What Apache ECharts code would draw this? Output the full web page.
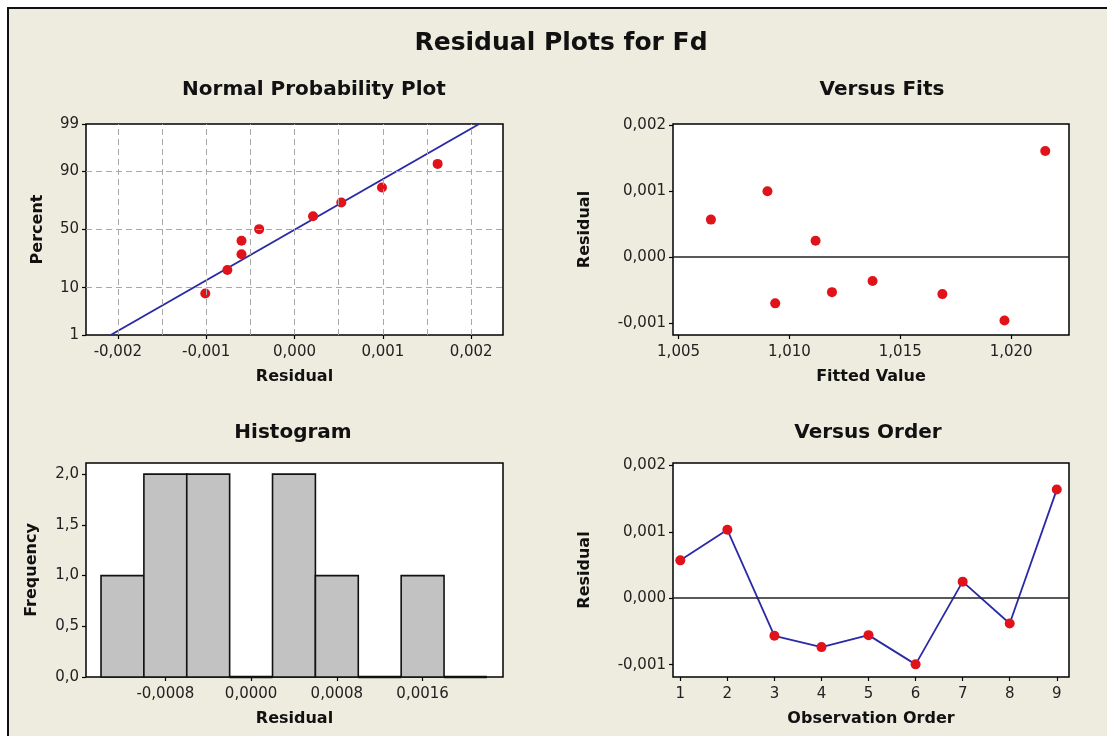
<!DOCTYPE html>
<html>
<head>
<meta charset="utf-8">
<script src="https://cdn.jsdelivr.net/npm/echarts@6/dist/echarts.min.js"></script>
<style>
  html, body { margin: 0; padding: 0; background: #ffffff; }
  #main { width: 1107px; height: 736px; }
</style>
</head>
<body>
<div id="main"></div>
<script>
var npResidual = [-0.00101, -0.00076, -0.00060, -0.00060, -0.00040, 0.00021, 0.00053, 0.00099, 0.00162];
var npPercent = [7.9, 18.6, 29.2, 40.2, 50.3, 61.5, 72.4, 82.3, 92.6];
var fitLineResidual = [-0.00208, 0.00209];
var fitLinePercent = [1, 99];
var pctTicks = [1, 10, 50, 90, 99];
var pctGrid = [10, 50, 90];
var npXTicks = [-0.002, -0.001, 0, 0.001, 0.002];
var npXGrid = [-0.002, -0.0015, -0.001, -0.0005, 0, 0.0005, 0.001, 0.0015, 0.002];

// versus fits
var fittedValue = [1.00646, 1.00901, 1.00936, 1.01118, 1.01192, 1.01375, 1.01690, 1.01970, 1.02154];
var fitsResidual = [0.00057, 0.00100, -0.00070, 0.00025, -0.00053, -0.00036, -0.00056, -0.00096, 0.00161];
var fitsXTicks = [1.005, 1.010, 1.015, 1.020];
var residTicks = [-0.001, 0, 0.001, 0.002];

// histogram
var binEdges = [-0.0014, -0.0010, -0.0006, -0.0002, 0.0002, 0.0006, 0.0010, 0.0014, 0.0018, 0.0022];
var binCounts = [1, 2, 2, 0, 2, 1, 0, 1, 0];
var histXTicks = [-0.0008, 0, 0.0008, 0.0016];
var histYTicks = [0, 0.5, 1, 1.5, 2];

// versus order
var observation = [1, 2, 3, 4, 5, 6, 7, 8, 9];
var orderResidual = [0.00057, 0.00103, -0.000565, -0.000735, -0.000555, -0.000995, 0.00025, -0.00038, 0.001635];

// inverse normal cdf (Acklam) -> probability scale
function probit(p) {
    var a = [-39.69683028665376, 220.9460984245205, -275.9285104469687, 138.3577518672690, -30.66479806614716, 2.506628277459239];
    var b = [-54.47609879822406, 161.5858368580409, -155.6989798598866, 66.80131188771972, -13.28068155288572];
    var c = [-0.007784894002430293, -0.3223964580411365, -2.400758277161838, -2.549732539343734, 4.374664141464968, 2.938163982698783];
    var d = [0.007784695709041462, 0.3224671290700398, 2.445134137142996, 3.754408661907416];
    var pl = 0.02425, q, r;
    if (p < pl) {
        q = Math.sqrt(-2 * Math.log(p));
        return (((((c[0]*q+c[1])*q+c[2])*q+c[3])*q+c[4])*q+c[5]) / ((((d[0]*q+d[1])*q+d[2])*q+d[3])*q+1);
    }
    if (p > 1 - pl) {
        q = Math.sqrt(-2 * Math.log(1 - p));
        return -(((((c[0]*q+c[1])*q+c[2])*q+c[3])*q+c[4])*q+c[5]) / ((((d[0]*q+d[1])*q+d[2])*q+d[3])*q+1);
    }
    q = p - 0.5; r = q * q;
    return (((((a[0]*r+a[1])*r+a[2])*r+a[3])*r+a[4])*r+a[5])*q / (((((b[0]*r+b[1])*r+b[2])*r+b[3])*r+b[4])*r+1);
}
function z(pct) { return probit(pct / 100); }
function comma(n) { return function (v) { return (Math.abs(v) < 1e-12 ? 0 : v).toFixed(n).replace('.', ','); }; }

var FONT = 'DejaVu Sans';
var nameStyle = { color: '#111', fontFamily: FONT, fontSize: 16, fontWeight: 'bold' };
var tickStyle = { show: true, length: 4, lineStyle: { color: '#000', width: 1.2 } };

function valueAxis(idx, min, max, ticks, fmt, name, gap, margin) {
    return {
        type: 'value', gridIndex: idx, min: min, max: max, scale: true,
        name: name, nameLocation: 'middle', nameGap: gap, nameTextStyle: nameStyle,
        axisLine: { show: false, onZero: false },
        axisTick: Object.assign({ customValues: ticks }, tickStyle),
        axisLabel: { customValues: ticks, formatter: fmt, color: '#222', fontFamily: FONT, fontSize: 15, margin: margin },
        splitLine: { show: false }
    };
}

var zTicks = pctTicks.map(z);
var zMin = z(1), zMax = z(99);
function pctLabel(v) {
    for (var i = 0; i < zTicks.length; i++) if (Math.abs(zTicks[i] - v) < 1e-6) return String(pctTicks[i]);
    return '';
}

var gridBase = { show: true, backgroundColor: '#ffffff', borderColor: '#000', borderWidth: 1.5 };
var zeroLine = {
    silent: true, symbol: 'none', label: { show: false },
    lineStyle: { color: '#222', width: 1.5, type: 'solid' },
    data: [{ yAxis: 0 }]
};
var red = '#e0121a';

var histData = binCounts.map(function (c, i) { return [binEdges[i], binEdges[i + 1], c]; });

var npGridLines = npXGrid.map(function (v) { return [{ coord: [v, zMin] }, { coord: [v, zMax] }]; })
    .concat(pctGrid.map(function (p) { return [{ coord: [-0.00236, z(p)] }, { coord: [0.00236, z(p)] }]; }));

var myChart = echarts.init(document.getElementById('main'));
var option = {
    backgroundColor: '#ffffff',
    animation: false,
    graphic: [
        { type: 'rect', shape: { x: 8, y: 8, width: 1120, height: 760 }, style: { fill: '#eeecdf', stroke: '#111', lineWidth: 2 }, z: -10 },
        { type: 'text', x: 561, y: 43, style: { text: 'Residual Plots for Fd', font: 'bold 25px "DejaVu Sans"', fill: '#111', textAlign: 'center', textVerticalAlign: 'middle' } },
        { type: 'text', x: 314, y: 90, style: { text: 'Normal Probability Plot', font: 'bold 20px "DejaVu Sans"', fill: '#111', textAlign: 'center', textVerticalAlign: 'middle' } },
        { type: 'text', x: 882, y: 90, style: { text: 'Versus Fits', font: 'bold 20px "DejaVu Sans"', fill: '#111', textAlign: 'center', textVerticalAlign: 'middle' } },
        { type: 'text', x: 293, y: 433, style: { text: 'Histogram', font: 'bold 20px "DejaVu Sans"', fill: '#111', textAlign: 'center', textVerticalAlign: 'middle' } },
        { type: 'text', x: 868, y: 433, style: { text: 'Versus Order', font: 'bold 20px "DejaVu Sans"', fill: '#111', textAlign: 'center', textVerticalAlign: 'middle' } }
    ],
    grid: [
        Object.assign({ left: 86, top: 124, width: 417, height: 211 }, gridBase),
        Object.assign({ left: 673, top: 124, width: 396, height: 211 }, gridBase),
        Object.assign({ left: 86, top: 463, width: 417, height: 214 }, gridBase),
        Object.assign({ left: 673, top: 463, width: 396, height: 214 }, gridBase)
    ],
    xAxis: [
        valueAxis(0, -0.00236, 0.00236, npXTicks, comma(3), 'Residual', 34, 10),
        valueAxis(1, 1.00475, 1.02261, fitsXTicks, comma(3), 'Fitted Value', 34, 10),
        valueAxis(2, -0.00154, 0.00235, histXTicks, comma(4), 'Residual', 34, 10),
        valueAxis(3, 0.845, 9.26, observation, function (v) { return String(v); }, 'Observation Order', 34, 10)
    ],
    yAxis: [
        valueAxis(0, zMin, zMax, zTicks, pctLabel, 'Percent', 40, 7),
        valueAxis(1, -0.00118, 0.00202, residTicks, comma(3), 'Residual', 80, 7),
        valueAxis(2, 0, 2.11, histYTicks, comma(1), 'Frequency', 46, 7),
        valueAxis(3, -0.001185, 0.002035, residTicks, comma(3), 'Residual', 80, 7)
    ],
    series: [
        {
            type: 'line', xAxisIndex: 0, yAxisIndex: 0, z: 1, silent: true, showSymbol: false,
            lineStyle: { width: 0 },
            data: [],
            markLine: {
                silent: true, symbol: 'none', label: { show: false },
                lineStyle: { color: '#a8a8a8', width: 1, type: [6, 4] },
                data: npGridLines
            }
        },
        {
            type: 'line', xAxisIndex: 0, yAxisIndex: 0, z: 3, showSymbol: false,
            lineStyle: { color: '#2a2aa8', width: 2 },
            data: fitLineResidual.map(function (r, i) { return [r, z(fitLinePercent[i])]; })
        },
        {
            type: 'scatter', xAxisIndex: 0, yAxisIndex: 0, z: 4, symbolSize: 10,
            itemStyle: { color: red, opacity: 1 },
            data: npResidual.map(function (r, i) { return [r, z(npPercent[i])]; })
        },
        {
            type: 'scatter', xAxisIndex: 1, yAxisIndex: 1, z: 4, symbolSize: 10,
            itemStyle: { color: red, opacity: 1 },
            data: fittedValue.map(function (f, i) { return [f, fitsResidual[i]]; }),
            markLine: zeroLine
        },
        {
            type: 'custom', xAxisIndex: 2, yAxisIndex: 2, z: 3,
            encode: { x: [0, 1], y: 2 },
            renderItem: function (params, api) {
                var p0 = api.coord([api.value(0), api.value(2)]);
                var p1 = api.coord([api.value(1), 0]);
                var empty = api.value(2) === 0;
                return {
                    type: 'rect',
                    shape: { x: p0[0], y: p0[1], width: p1[0] - p0[0], height: p1[1] - p0[1] },
                    style: { fill: '#c2c2c2', stroke: '#111', lineWidth: empty ? 2.6 : 1.6 }
                };
            },
            data: histData
        },
        {
            type: 'line', xAxisIndex: 3, yAxisIndex: 3, z: 4,
            symbol: 'circle', symbolSize: 10,
            lineStyle: { color: '#2a2aa8', width: 1.8 },
            itemStyle: { color: red },
            data: observation.map(function (o, i) { return [o, orderResidual[i]]; }),
            markLine: zeroLine
        }
    ]
};
myChart.setOption(option);
</script>
</body>
</html>
